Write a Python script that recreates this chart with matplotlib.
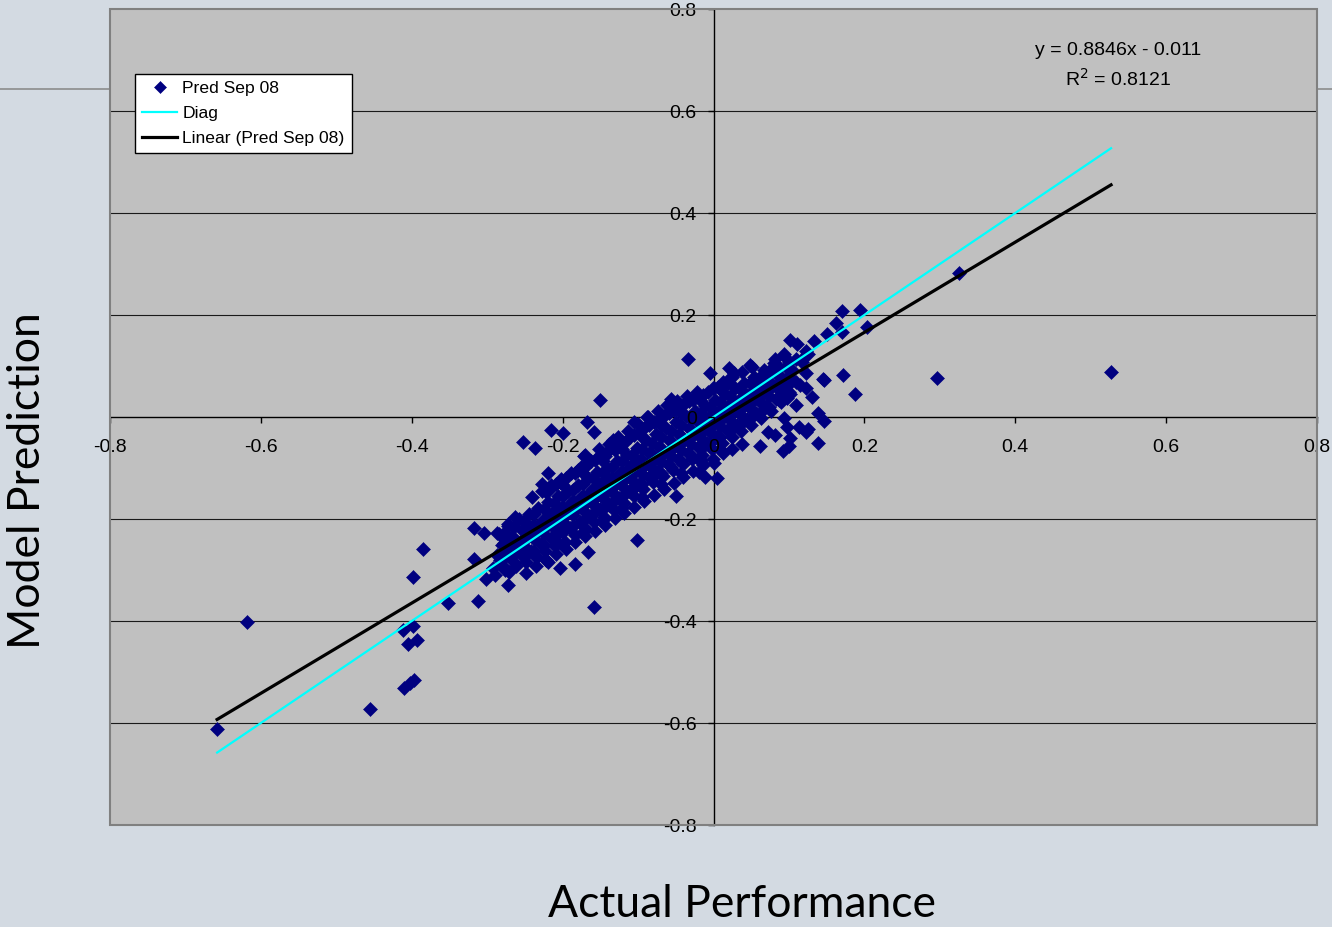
import numpy as np
import matplotlib
matplotlib.use("Agg")
import matplotlib.pyplot as plt
from matplotlib.lines import Line2D
from matplotlib.patches import Rectangle

# actual performance (x) and model prediction (y)
# outliers / sparse points first, then the dense band column by column
actual = [
    -0.658, -0.618, -0.456,
    -0.318, -0.385, -0.318, -0.398, -0.352, -0.312, -0.411, -0.398, -0.405, -0.393, -0.410, -0.402, -0.397,
    0.325, 0.527, 0.296,
    0.170, 0.194, 0.162, 0.171, 0.203, 0.151, 0.133, 0.123, 0.172, 0.145, 0.188, 0.131, 0.139, 0.147, 0.139, 0.122,
    -0.253, -0.237, -0.216, -0.200, -0.168, -0.106, -0.219, -0.228, -0.170, -0.180,
    -0.304, -0.287, -0.263, -0.273, -0.301, -0.292, -0.273, -0.271, -0.283,
    -0.159, -0.204, -0.183, -0.220, -0.234, -0.247, -0.166, -0.102, -0.218, -0.203,
    -0.150, -0.159, -0.172, -0.057, -0.004, 0.023, 0.025, 0.005, -0.050, -0.011, -0.133, -0.088,
    -0.034, 0.021, 0.049, 0.102, 0.111, 0.125, 0.094, 0.082, 0.146, 0.122, 0.109, 0.094,
    0.098, 0.113, 0.125, 0.082, 0.102, 0.092, 0.100, 0.072, 0.061, 0.038, -0.019, 0.092,
    0.097, 0.076, 0.056, 0.027, 0.000, -0.017, 0.000,
    -0.289, -0.282, -0.287, -0.281, -0.285,
    -0.276, -0.269, -0.274, -0.268, -0.272,
    -0.262, -0.255, -0.260, -0.254, -0.258,
    -0.249, -0.242, -0.247, -0.241, -0.245,
    -0.236, -0.229, -0.234, -0.228, -0.232,
    -0.223, -0.216, -0.221, -0.215, -0.219, -0.222,
    -0.210, -0.203, -0.208, -0.202, -0.206, -0.209,
    -0.197, -0.190, -0.195, -0.189, -0.193, -0.196,
    -0.184, -0.177, -0.182, -0.176, -0.180, -0.183,
    -0.171, -0.164, -0.169, -0.163, -0.167, -0.170,
    -0.158, -0.151, -0.156, -0.150, -0.154, -0.157, -0.152,
    -0.145, -0.138, -0.143, -0.137, -0.141, -0.144, -0.139,
    -0.132, -0.125, -0.130, -0.124, -0.128, -0.131, -0.126,
    -0.119, -0.112, -0.117, -0.111, -0.115, -0.118, -0.113,
    -0.106, -0.099, -0.104, -0.098, -0.102, -0.105, -0.100,
    -0.093, -0.086, -0.091, -0.085, -0.089, -0.092, -0.087,
    -0.080, -0.073, -0.078, -0.072, -0.076, -0.079, -0.074,
    -0.067, -0.060, -0.065, -0.059, -0.063, -0.066, -0.061,
    -0.054, -0.047, -0.052, -0.046, -0.050, -0.053, -0.048,
    -0.041, -0.034, -0.039, -0.033, -0.037, -0.040, -0.035,
    -0.028, -0.021, -0.026, -0.020, -0.024, -0.027, -0.022,
    -0.015, -0.008, -0.013, -0.007, -0.011, -0.014,
    -0.002, 0.005, 0.000, 0.006, 0.002, -0.001,
    0.011, 0.018, 0.013, 0.019, 0.015, 0.012,
    0.024, 0.031, 0.026, 0.032, 0.028, 0.025,
    0.037, 0.044, 0.039, 0.045, 0.041, 0.038,
    0.050, 0.057, 0.052, 0.058, 0.054, 0.051,
    0.063, 0.070, 0.065, 0.071, 0.067,
    0.076, 0.083, 0.078, 0.084, 0.080,
    0.089, 0.096, 0.091, 0.097, 0.093,
    0.102, 0.109, 0.104, 0.110,
    0.115, 0.122, 0.117, 0.123,
    -0.199, -0.199, -0.199, -0.186, -0.186, -0.186, -0.173, -0.173, -0.173,
    -0.160, -0.160, -0.160, -0.147, -0.147, -0.147, -0.134, -0.134, -0.134,
    -0.121, -0.121, -0.121, -0.108, -0.108, -0.108, -0.095, -0.095, -0.095,
    -0.082, -0.082, -0.082, -0.069, -0.069, -0.069, -0.056, -0.056, -0.056,
    -0.043, -0.043, -0.043, -0.030, -0.030, -0.030, -0.017, -0.017, -0.017,
    -0.004, -0.004, -0.004, 0.009, 0.009, 0.009, 0.022, 0.022, 0.022,
    -0.278, -0.278, -0.278, -0.265, -0.265, -0.265, -0.251, -0.251, -0.251,
    -0.238, -0.238, -0.238, -0.225, -0.225, -0.225, -0.212, -0.212, -0.212,
    0.035, 0.035, 0.035, 0.048, 0.048, 0.048, 0.061, 0.061, 0.061,
    0.074, 0.074, 0.074, 0.087, 0.087, 0.087, 0.100, 0.100, 0.100,
    -0.199, -0.199, -0.173, -0.173, -0.147, -0.147, -0.121, -0.121, -0.095,
    -0.095, -0.069, -0.069, -0.043, -0.043, -0.017, -0.017, 0.009, 0.009,
    -0.278, -0.278, -0.265, -0.265, -0.251, -0.251, -0.238, -0.238, -0.225, -0.225,
    -0.212, -0.212, -0.199, -0.199, -0.186, -0.186, -0.173, -0.173, -0.160, -0.160,
    -0.147, -0.147, -0.134, -0.134, -0.121, -0.121, -0.108, -0.108, -0.095, -0.095,
    -0.082, -0.082, -0.069, -0.069, -0.056, -0.056, -0.043, -0.043, -0.030, -0.030,
    -0.017, -0.017, -0.004, -0.004, 0.009, 0.009, 0.022, 0.022, 0.035, 0.035,
    0.048, 0.048, 0.061, 0.061, 0.074, 0.074, 0.087, 0.087, 0.100, 0.100,
    -0.248, -0.241, -0.235, -0.228, -0.222, -0.215, -0.209, -0.202, -0.196, -0.189,
    -0.183, -0.176, -0.170, -0.163, -0.157, -0.150, -0.144, -0.137, -0.131, -0.124,
    -0.118, -0.111, -0.105, -0.098, -0.092, -0.085, -0.079, -0.072, -0.066, -0.059,
    -0.053, -0.046, -0.040, -0.033, -0.027, -0.020, -0.014, -0.007, -0.001, 0.006,
    0.012, 0.019,
]
predicted = [
    -0.612, -0.402, -0.573,
    -0.218, -0.259, -0.278, -0.314, -0.365, -0.361, -0.418, -0.410, -0.445, -0.437, -0.531, -0.522, -0.516,
    0.282, 0.088, 0.076,
    0.208, 0.210, 0.184, 0.167, 0.176, 0.163, 0.149, 0.121, 0.082, 0.075, 0.045, 0.039, 0.008, -0.008, -0.051, -0.029,
    -0.049, -0.061, -0.025, -0.031, -0.010, -0.010, -0.110, -0.131, -0.075, -0.104,
    -0.227, -0.228, -0.196, -0.214, -0.318, -0.296, -0.329, -0.304, -0.280,
    -0.373, -0.296, -0.288, -0.284, -0.274, -0.265, -0.265, -0.241, -0.143, -0.128,
    0.033, -0.029, -0.076, 0.035, 0.087, 0.079, -0.063, -0.120, -0.155, -0.117, -0.045, 0.000,
    0.113, 0.096, 0.102, 0.151, 0.143, 0.124, 0.124, 0.114, 0.073, 0.057, 0.024, -0.002,
    -0.020, -0.020, -0.024, -0.035, -0.041, -0.067, -0.057, -0.029, -0.057, -0.053, -0.108, 0.053,
    0.037, 0.067, 0.073, 0.086, 0.057, -0.088, -0.090,
    -0.310, -0.290, -0.270, -0.250, -0.230,
    -0.300, -0.275, -0.255, -0.235, -0.210,
    -0.292, -0.268, -0.246, -0.222, -0.200,
    -0.285, -0.262, -0.238, -0.214, -0.190,
    -0.272, -0.249, -0.226, -0.203, -0.178,
    -0.262, -0.238, -0.214, -0.190, -0.166, -0.148,
    -0.252, -0.226, -0.202, -0.178, -0.155, -0.132,
    -0.245, -0.218, -0.192, -0.168, -0.145, -0.120,
    -0.232, -0.205, -0.180, -0.157, -0.134, -0.110,
    -0.218, -0.194, -0.168, -0.145, -0.120, -0.098,
    -0.205, -0.180, -0.156, -0.132, -0.108, -0.085, -0.062,
    -0.196, -0.172, -0.148, -0.124, -0.100, -0.076, -0.052,
    -0.182, -0.158, -0.134, -0.110, -0.086, -0.064, -0.040,
    -0.168, -0.146, -0.122, -0.098, -0.074, -0.050, -0.028,
    -0.155, -0.132, -0.108, -0.084, -0.060, -0.036, -0.014,
    -0.142, -0.118, -0.094, -0.070, -0.046, -0.022, 0.000,
    -0.128, -0.105, -0.082, -0.058, -0.034, -0.010, 0.012,
    -0.115, -0.093, -0.070, -0.046, -0.022, 0.002, 0.024,
    -0.104, -0.082, -0.058, -0.034, -0.010, 0.014, 0.032,
    -0.092, -0.070, -0.046, -0.022, 0.002, 0.024, 0.042,
    -0.082, -0.058, -0.034, -0.010, 0.012, 0.034, 0.050,
    -0.074, -0.050, -0.026, -0.002, 0.022, 0.044,
    -0.062, -0.038, -0.014, 0.010, 0.034, 0.056,
    -0.050, -0.026, -0.002, 0.022, 0.046, 0.068,
    -0.040, -0.016, 0.008, 0.032, 0.056, 0.078,
    -0.028, -0.004, 0.020, 0.044, 0.066, 0.088,
    -0.016, 0.008, 0.032, 0.056, 0.078, 0.098,
    -0.002, 0.022, 0.046, 0.070, 0.092,
    0.012, 0.036, 0.060, 0.084, 0.106,
    0.030, 0.052, 0.076, 0.100, 0.120,
    0.046, 0.068, 0.092, 0.114,
    0.062, 0.086, 0.108, 0.130,
    -0.226, -0.190, -0.155, -0.214, -0.180, -0.144, -0.203, -0.167, -0.132,
    -0.190, -0.156, -0.120, -0.180, -0.145, -0.110, -0.168, -0.132, -0.098,
    -0.156, -0.120, -0.086, -0.144, -0.110, -0.074, -0.132, -0.097, -0.062,
    -0.120, -0.085, -0.050, -0.110, -0.074, -0.040, -0.098, -0.062, -0.028,
    -0.086, -0.050, -0.016, -0.074, -0.039, -0.004, -0.062, -0.027, 0.008,
    -0.050, -0.016, 0.020, -0.040, -0.004, 0.030, -0.028, 0.008, 0.042,
    -0.295, -0.262, -0.228, -0.285, -0.250, -0.216, -0.275, -0.238, -0.203,
    -0.262, -0.226, -0.190, -0.250, -0.214, -0.180, -0.240, -0.203, -0.168,
    -0.016, 0.020, 0.054, -0.004, 0.031, 0.066, 0.008, 0.043, 0.078,
    0.020, 0.055, 0.090, 0.034, 0.066, 0.098, 0.050, 0.080, 0.108,
    -0.249, -0.133, -0.226, -0.110, -0.202, -0.086, -0.179, -0.063, -0.156,
    -0.040, -0.132, -0.016, -0.109, 0.007, -0.085, 0.031, -0.062, 0.054,
    -0.276, -0.248, -0.265, -0.237, -0.252, -0.224, -0.240, -0.212, -0.229, -0.201,
    -0.217, -0.189, -0.205, -0.177, -0.193, -0.165, -0.182, -0.154, -0.170, -0.142,
    -0.158, -0.130, -0.147, -0.119, -0.135, -0.107, -0.123, -0.095, -0.112, -0.084,
    -0.100, -0.072, -0.088, -0.060, -0.076, -0.048, -0.065, -0.037, -0.053, -0.025,
    -0.041, -0.013, -0.030, -0.002, -0.018, 0.010, -0.006, 0.022, 0.006, 0.034,
    0.017, 0.045, 0.029, 0.057, 0.041, 0.069, 0.052, 0.080, 0.064, 0.092,
    -0.305, -0.157, -0.293, -0.145, -0.281, -0.133, -0.269, -0.121, -0.258, -0.110,
    -0.246, -0.098, -0.234, -0.086, -0.223, -0.075, -0.211, -0.063, -0.199, -0.051,
    -0.188, -0.040, -0.176, -0.028, -0.164, -0.016, -0.152, -0.004, -0.141, 0.007,
    -0.129, 0.019, -0.117, 0.031, -0.106, 0.042, -0.094, 0.050, -0.082, 0.058,
    -0.070, 0.066,
]

# excel trendline shown on the chart
slope = 0.8846
intercept = -0.011
r2 = 0.8121

ticks = [-0.8, -0.6, -0.4, -0.2, 0, 0.2, 0.4, 0.6, 0.8]
tick_labels = ["-0.8", "-0.6", "-0.4", "-0.2", "0", "0.2", "0.4", "0.6", "0.8"]

x = np.array(actual)
y = np.array(predicted)

plt.rcParams['font.family'] = ['Liberation Sans', 'DejaVu Sans']

bg = '#d3dae2'
fig = plt.figure(figsize=(13.32, 9.27), dpi=100, facecolor=bg)

# thin slide decoration line behind the chart
fig.add_artist(Line2D([0, 1], [1 - 88.5 / 927, 1 - 88.5 / 927], color='#8c8c8c', lw=1.2, zorder=0))

ax = fig.add_axes([110 / 1332, 102 / 927, 1207 / 1332, 816 / 927])
ax.set_facecolor('#c0c0c0')
ax.set_xlim(-0.8, 0.8)
ax.set_ylim(-0.8, 0.8)

for g in [-0.6, -0.4, -0.2, 0.2, 0.4, 0.6]:
    ax.axhline(g, color='#1a1a1a', lw=0.8, zorder=1)

ax.add_patch(Rectangle((0, 0), 1, 1, transform=ax.transAxes, fill=False,
                       edgecolor='#808080', lw=1.5, zorder=6, clip_on=False))

# axes cross at zero like excel
for s in ['top', 'right']:
    ax.spines[s].set_visible(False)
ax.spines['left'].set_position(('data', 0))
ax.spines['bottom'].set_position(('data', 0))
for s in ['left', 'bottom']:
    ax.spines[s].set_color('black')
    ax.spines[s].set_linewidth(1.0)
    ax.spines[s].set_zorder(1.5)

ax.set_xticks(ticks)
ax.set_xticklabels(tick_labels)
ax.set_yticks(ticks)
ax.set_yticklabels(tick_labels)
ax.tick_params(axis='x', direction='out', length=4, width=1, pad=12, labelsize=14)
ax.tick_params(axis='y', direction='out', length=4, width=1, pad=8, labelsize=14)
ax.xaxis.set_zorder(5)
ax.yaxis.set_zorder(5)

ax.plot(x, y, linestyle='none', marker='D', markersize=7.3, color='#000080',
        markeredgewidth=0.4, zorder=3, label='Pred Sep 08')

xs = np.array([x.min(), x.max()])
ax.plot(xs, xs, color='#00ffff', lw=1.6, zorder=4, label='Diag')
ax.plot(xs, slope * xs + intercept, color='black', lw=2.3, zorder=4,
        label='Linear (Pred Sep 08)')

leg = ax.legend(loc='upper left', bbox_to_anchor=(25 / 1207, 1 - 65 / 816), borderaxespad=0,
                fancybox=False, framealpha=1, edgecolor='black', fontsize=12.6,
                handlelength=2.0, handletextpad=0.3, labelspacing=0.55, borderpad=0.4,
                markerscale=0.8)
leg.get_frame().set_linewidth(1.0)
leg.set_zorder(7)

ax.text(0.536, 0.719, f"y = {slope}x - {abs(intercept)}", ha='center', va='center', fontsize=14)
ax.text(0.536, 0.663, f"R$^2$ = {r2}", ha='center', va='center', fontsize=14)

fig.text(742 / 1332, 1 - 917 / 927, "Actual Performance", ha='center', va='baseline',
         fontsize=32, family=['Lato', 'DejaVu Sans'])
fig.text(40 / 1332, 1 - 481 / 927, "Model Prediction", ha='center', va='baseline', rotation=90,
         fontsize=32, family=['Lato', 'DejaVu Sans'], rotation_mode='anchor')

fig.savefig('out.png', dpi=100, facecolor=bg)
